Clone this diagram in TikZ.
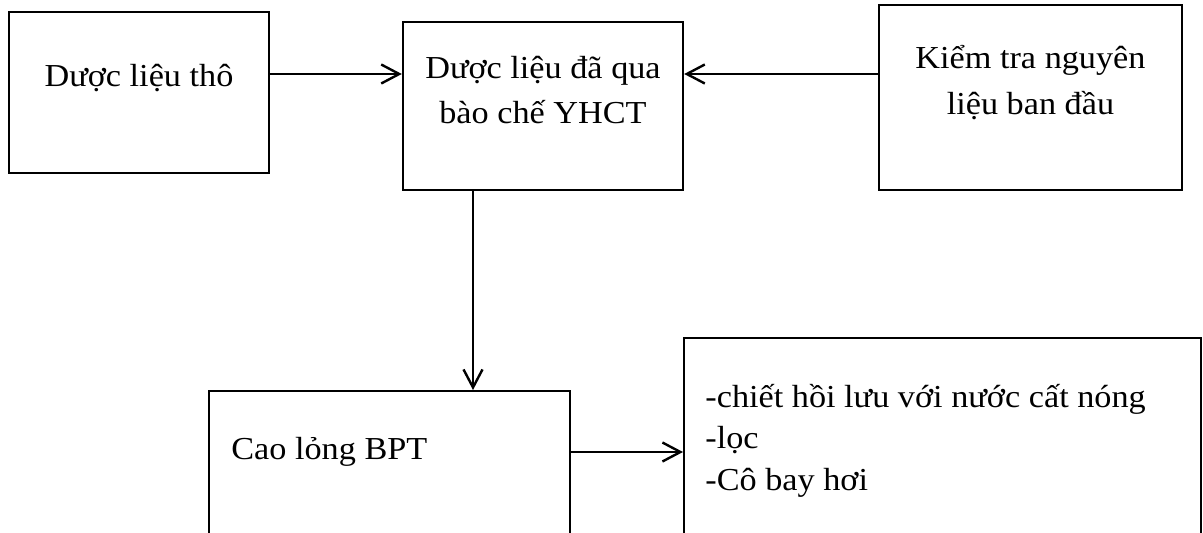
\documentclass[tikz,border=0pt]{standalone}
\usepackage{fontspec}
\setmainfont{Liberation Serif}[FakeStretch=1.07]
\usetikzlibrary{arrows.meta}

\tikzset{
  khung/.style={draw, line width=1.2pt, inner sep=0pt},
  chu/.style={inner sep=0pt, font=\fontsize{16pt}{22.5pt}\selectfont},
  muiten/.style={line width=1.2pt, -{Straight Barb[length=9pt,width=9.5pt]}}
}

\begin{document}
\begin{tikzpicture}[x=0.5pt, y=-0.5pt]
  \useasboundingbox (0,0) rectangle (1203,533);
  \clip (0,0) rectangle (1203,533);
  % cac khung
  \node[khung, minimum width=130pt, minimum height=80.5pt] (tho) at (139,92.5) {};
  \node[khung, minimum width=140pt, minimum height=84pt] (baoche) at (543,106) {};
  \node[khung, minimum width=151.5pt, minimum height=92.5pt] (kiemtra) at (1030.5,97.5) {};
  \node[khung, minimum width=180.5pt, minimum height=110pt, anchor=north west] (cao) at (208,390) {};
  \node[khung, minimum width=258.5pt, minimum height=110pt, anchor=north west] (quytrinh) at (683,337) {};
  % chu trong khung (base = dong cuoi)
  \node[chu, anchor=base] (thoT) at ([yshift=2.75pt]tho.center) {Dược liệu thô};
  \node[chu, anchor=base, align=center] (baocheT) at ([yshift=-9pt]baoche.center) {Dược liệu đã qua\\bào chế YHCT};
  \node[chu, anchor=base, align=center, font=\fontsize{16pt}{23.3pt}\selectfont] (kiemtraT) at ([yshift=-8.75pt]kiemtra.center) {Kiểm tra nguyên\\liệu ban đầu};
  \node[chu, anchor=base west] (caoT) at ([xshift=11.5pt, yshift=-34.5pt]cao.north west) {Cao lỏng BPT};
  \node[chu, anchor=base west, align=left, font=\fontsize{16pt}{20.75pt}\selectfont] (quytrinhT) at ([xshift=11pt, yshift=-76.5pt]quytrinh.north west) {-chiết hồi lưu với nước cất nóng\\-lọc\\-Cô bay hơi};
  % mui ten
  \coordinate (m1) at ([yshift=9.25pt]tho.east);
  \coordinate (m2) at ([yshift=11.75pt]kiemtra.west);
  \coordinate (m3) at ([xshift=-35pt]baoche.south);
  \coordinate (m4) at ([yshift=-31pt]cao.north east);
  \draw[muiten] (m1) -- (m1 -| baoche.west);
  \draw[muiten] (m2) -- (m2 -| baoche.east);
  \draw[muiten] (m3) -- (m3 |- cao.north);
  \draw[muiten] (m4) -- (m4 -| quytrinh.west);
\end{tikzpicture}
\end{document}
